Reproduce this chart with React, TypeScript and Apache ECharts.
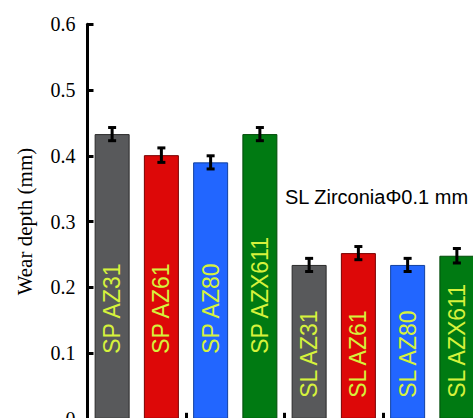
import React, { useEffect, useRef } from "react";
import * as echarts from "echarts";

const categories = ["SP AZ31", "SP AZ61", "SP AZ80", "SP AZX611", "SL AZ31", "SL AZ61", "SL AZ80", "SL AZX611"];
const wearDepth = [0.433, 0.401, 0.39, 0.433, 0.234, 0.252, 0.234, 0.248];
const wearError = [0.01, 0.011, 0.01, 0.01, 0.01, 0.01, 0.01, 0.011];
const yTickValues = [0, 0.1, 0.2, 0.3, 0.4, 0.5, 0.6];
const annotation = "SL ZirconiaΦ0.1 mm";

const barFill = ["#58595b", "#dd0808", "#2266ff", "#007a12", "#58595b", "#dd0808", "#2266ff", "#007a12"];
const barEdge = ["#2a2a2a", "#7a0000", "#1040a0", "#004a08", "#2a2a2a", "#7a0000", "#1040a0", "#004a08"];
const labelLift = [65, 65, 65, 65, 21, 21, 21, 21];

const SERIF = "Liberation Serif";

export default function App() {
  const ref = useRef<HTMLDivElement>(null);
  useEffect(() => {
    document.body.style.overflow = "hidden";
    const chart = echarts.init(ref.current!, null, { renderer: "svg" });
    const axisLine = { show: true, lineStyle: { color: "#000", width: 3 } };
    const tick = { show: true, inside: true, length: 6, lineStyle: { color: "#000", width: 3 } };
    chart.setOption({
      animation: false,
      backgroundColor: "#fff",
      textStyle: { fontFamily: SERIF },
      grid: { left: 87.5, top: 24.3, right: 18.5, bottom: 21.2 },
      xAxis: [
        {
          type: "category",
          data: categories,
          position: "bottom",
          axisLine,
          axisTick: tick,
          axisLabel: { show: false },
          splitLine: { show: false },
        },
        {
          type: "category",
          data: categories,
          position: "top",
          axisLine,
          axisTick: tick,
          axisLabel: { show: false },
          splitLine: { show: false },
        },
      ],
      yAxis: [
        {
          type: "value",
          min: yTickValues[0],
          max: yTickValues[yTickValues.length - 1],
          interval: 0.1,
          position: "left",
          axisLine,
          axisTick: tick,
          splitLine: { show: false },
          axisLabel: {
            margin: 12,
            color: "#000",
            fontFamily: SERIF,
            fontSize: 20,
            formatter: (v: number) => (v === 0 ? "0" : v.toFixed(1)),
          },
          name: "Wear depth (mm)",
          nameLocation: "middle",
          nameGap: 52,
          nameRotate: 90,
          nameTextStyle: { color: "#000", fontFamily: SERIF, fontSize: 21 },
        },
        {
          type: "value",
          min: 0,
          max: 0.6,
          interval: 0.1,
          position: "right",
          axisLine,
          axisTick: tick,
          axisLabel: { show: false },
          splitLine: { show: false },
        },
      ],
      graphic: [
        {
          type: "text",
          x: 285,
          y: 197,
          style: {
            text: annotation,
            fill: "#000",
            font: "20px 'Liberation Sans', 'Noto Sans CJK JP', sans-serif",
            verticalAlign: "middle",
          },
          z: 100,
        },
      ],
      series: [
        {
          type: "bar",
          barWidth: 35,
          data: wearDepth.map((v, i) => ({
            value: v,
            itemStyle: { color: barFill[i], borderColor: barEdge[i], borderWidth: 1 },
          })),
          z: 2,
        },
        {
          type: "custom",
          data: wearDepth.map((v, i) => [i, v, wearError[i]]),
          encode: { x: 0, y: 1 },
          z: 5,
          renderItem: (params: any, api: any) => {
            const i = api.value(0);
            const v = api.value(1);
            const e = api.value(2);
            const hi = api.coord([i, v + e]);
            const lo = api.coord([i, v - e]);
            const half = 4;
            const ls = { stroke: "#000", lineWidth: 3 };
            return {
              type: "group",
              children: [
                { type: "line", shape: { x1: hi[0], y1: hi[1], x2: lo[0], y2: lo[1] }, style: ls },
                { type: "line", shape: { x1: hi[0] - half, y1: hi[1], x2: hi[0] + half, y2: hi[1] }, style: ls },
                { type: "line", shape: { x1: lo[0] - half, y1: lo[1], x2: lo[0] + half, y2: lo[1] }, style: ls },
              ],
            };
          },
        },
        {
          type: "custom",
          data: categories.map((c, i) => [i, 0]),
          encode: { x: 0, y: 1 },
          z: 6,
          renderItem: (params: any, api: any) => {
            const i = api.value(0);
            const p = api.coord([i, 0]);
            return {
              type: "text",
              x: p[0],
              y: p[1] - labelLift[i],
              rotation: Math.PI / 2,
              style: {
                text: categories[i],
                fill: "#d6f23c",
                font: "23px 'Liberation Sans', Arial, sans-serif",
                align: "left",
                verticalAlign: "middle",
              },
            };
          },
        },
      ],
    });
    return () => chart.dispose();
  }, []);
  return (
    <div
      ref={ref}
      style={{ position: "absolute", left: 0, top: 0, width: 500, height: 440 }}
    />
  );
}
